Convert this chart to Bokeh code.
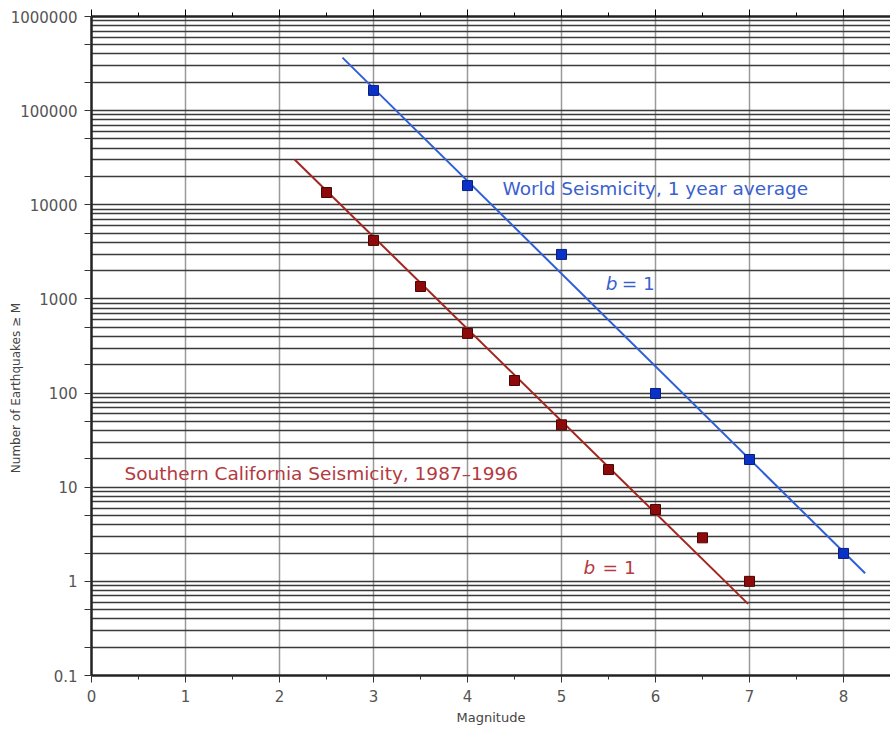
import math
from bokeh.plotting import figure
from bokeh.models import (FixedTicker, CustomJSTickFormatter, LinearAxis, Label, Range1d)
from bokeh.embed import file_html
from bokeh.resources import INLINE

# ---------------- data ----------------
world_mag = [3, 4, 5, 6, 7, 8]
world_n = [164000, 16000, 2970, 99, 19.7, 1.98]
world_fit_mag = [2.67, 8.23]
world_fit_n = [366000, 1.22]

socal_mag = [2.5, 3, 3.5, 4, 4.5, 5, 5.5, 6, 6.5, 7]
socal_n = [13500, 4180, 1355, 430, 136, 46, 15.4, 5.8, 2.9, 1.0]
socal_fit_mag = [2.16, 6.985]
socal_fit_n = [30300, 0.577]

x_ticks = [0, 1, 2, 3, 4, 5, 6, 7, 8]
x_minor = [0.5, 1.5, 2.5, 3.5, 4.5, 5.5, 6.5, 7.5]
decades = [-1, 0, 1, 2, 3, 4, 5, 6]
y_ticks = [10.0 ** d for d in decades]
y_minor = [m * 10.0 ** d for d in decades[:-1] for m in (2, 5)]
y_grid = [m * 10.0 ** d for d in decades[:-1] for m in range(1, 10)] + [1e6]

BLUE_LINE = "#2f5fd6"
BLUE_PT = "#0a32c8"
BLUE_TXT = "#3a5fcf"
RED_LINE = "#a3251f"
RED_PT = "#8e0a0a"
RED_TXT = "#b33a40"
TXT_FONT = "DejaVu Sans"
TXT_SIZE = "18.5px"

p = figure(width=890, height=731, y_axis_type="log",
           x_range=Range1d(0, 8.5), y_range=Range1d(0.1, 1e6),
           output_backend="svg", toolbar_location=None,
           min_border_left=91, min_border_top=16, min_border_right=0,
           min_border_bottom=56)
p.outline_line_color = None
p.background_fill_color = "white"

# grids
p.xgrid.ticker = FixedTicker(ticks=x_ticks)
p.xgrid.grid_line_color = "#9a9a9a"
p.xgrid.grid_line_width = 1.5
p.ygrid.ticker = FixedTicker(ticks=y_grid)
p.ygrid.grid_line_color = "#3a3a3a"
p.ygrid.grid_line_width = 1.3

fmt = CustomJSTickFormatter(code="""
if (tick < 0.5) { return tick.toFixed(1); }
return Math.round(tick).toString();
""")

# x axis
xa = p.xaxis[0]
xa.ticker = FixedTicker(ticks=x_ticks, minor_ticks=x_minor)
xa.axis_line_width = 2.5
xa.axis_line_color = "#222222"
xa.major_tick_out = 7
xa.major_tick_in = 0
xa.minor_tick_out = 4
xa.minor_tick_in = 0
xa.major_tick_line_color = "#333333"
xa.minor_tick_line_color = "#333333"
xa.major_label_text_font = "DejaVu Sans"
xa.major_label_text_font_size = "15px"
xa.major_label_text_color = "#555555"
xa.major_label_standoff = 7
xa.axis_label = "Magnitude"
xa.axis_label_text_font = "DejaVu Sans"
xa.axis_label_text_font_size = "13px"
xa.axis_label_text_font_style = "normal"
xa.axis_label_text_color = "#444444"
xa.axis_label_standoff = 5

# y axis
ya = p.yaxis[0]
ya.ticker = FixedTicker(ticks=y_ticks, minor_ticks=y_minor)
ya.formatter = fmt
ya.axis_line_width = 2.5
ya.axis_line_color = "#222222"
ya.major_tick_out = 7
ya.major_tick_in = 0
ya.minor_tick_out = 7
ya.minor_tick_in = 0
ya.major_tick_line_color = "#333333"
ya.minor_tick_line_color = "#333333"
ya.major_label_text_font = "DejaVu Sans"
ya.major_label_text_font_size = "15px"
ya.major_label_text_color = "#555555"
ya.major_label_standoff = 7
# title tucked beside the shorter tick labels, as in the reference
ya.axis_label = "Number of Earthquakes \u2265 M" + "\u2003" * 7
ya.axis_label_text_font = "DejaVu Sans"
ya.axis_label_text_font_size = "12px"
ya.axis_label_text_font_style = "normal"
ya.axis_label_text_color = "#444444"
ya.axis_label_standoff = -15

# top axis (ticks only)
ta = LinearAxis(ticker=FixedTicker(ticks=x_ticks, minor_ticks=x_minor),
                formatter=CustomJSTickFormatter(code="return '';"))
ta.axis_line_width = 2.5
ta.axis_line_color = "#222222"
ta.major_tick_out = 7
ta.major_tick_in = 0
ta.minor_tick_out = 4
ta.minor_tick_in = 0
ta.major_label_text_font_size = "0px"
ta.major_label_standoff = 0
p.add_layout(ta, "above")

# fits
p.line(world_fit_mag, world_fit_n, line_color=BLUE_LINE, line_width=2)
p.line(socal_fit_mag, socal_fit_n, line_color=RED_LINE, line_width=2)

# points
p.scatter(world_mag, world_n, marker="square", size=10,
          fill_color=BLUE_PT, line_color="#0a1f7a", line_width=1)
p.scatter(socal_mag, socal_n, marker="square", size=10,
          fill_color=RED_PT, line_color="#4a0505", line_width=1)

# annotations
p.add_layout(Label(x=4.372, y=14900, text="World Seismicity, 1 year average",
                   text_font=TXT_FONT, text_font_size=TXT_SIZE,
                   text_color=BLUE_TXT, text_baseline="middle"))
p.add_layout(Label(x=0.351, y=14.0, text="Southern California Seismicity, 1987\u20131996",
                   text_font=TXT_FONT, text_font_size=TXT_SIZE,
                   text_color=RED_TXT, text_baseline="middle"))
p.add_layout(Label(x=5.47, y=1460, text="b", text_font=TXT_FONT,
                   text_font_size=TXT_SIZE, text_font_style="italic",
                   text_color=BLUE_TXT, text_baseline="middle"))
p.add_layout(Label(x=5.47, y=1460, x_offset=16, text="= 1", text_font=TXT_FONT,
                   text_font_size=TXT_SIZE,
                   text_color=BLUE_TXT, text_baseline="middle"))
p.add_layout(Label(x=5.234, y=1.40, text="b", text_font=TXT_FONT,
                   text_font_size=TXT_SIZE, text_font_style="italic",
                   text_color=RED_TXT, text_baseline="middle"))
p.add_layout(Label(x=5.234, y=1.40, x_offset=19, text="= 1", text_font=TXT_FONT,
                   text_font_size=TXT_SIZE,
                   text_color=RED_TXT, text_baseline="middle"))

open("out.html", "w").write(file_html(p, INLINE))
